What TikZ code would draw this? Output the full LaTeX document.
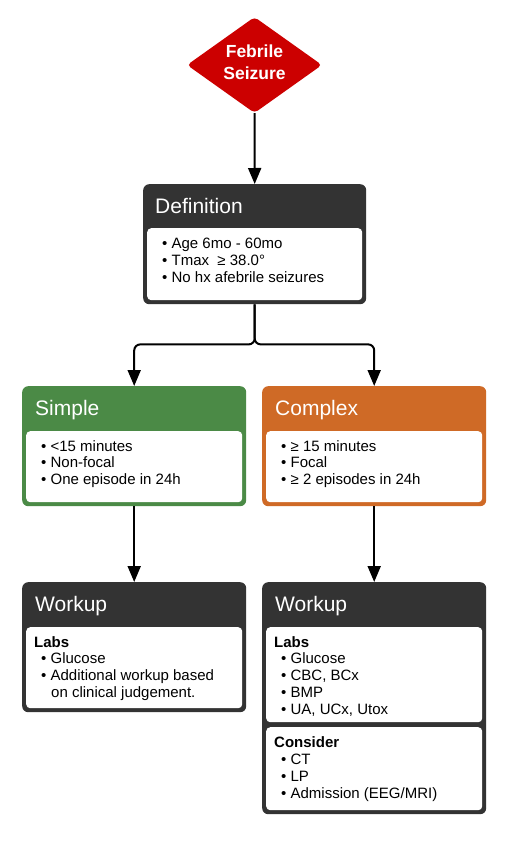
\documentclass[tikz,border=0pt]{standalone}
\usepackage{fontspec}
\setmainfont{Liberation Sans}
\usetikzlibrary{shapes.geometric,arrows.meta}
\definecolor{dark}{HTML}{333333}
\definecolor{fsred}{HTML}{CC0000}
\definecolor{fsgreen}{HTML}{4B8A46}
\definecolor{fsorange}{HTML}{CF6A26}
\begin{document}
\begin{tikzpicture}[x=1pt,y=-1pt,
  panel/.style={anchor=north west, rounded corners=6pt, inner sep=0pt, minimum width=224pt, draw=none},
  whitebox/.style={anchor=north west, rounded corners=4pt, inner sep=0pt, fill=white, minimum width=216pt, draw=none},
  ttl/.style={anchor=base west, inner sep=0pt, text=white, font=\fontsize{21}{24}\selectfont},
  body/.style={anchor=base west, inner sep=0pt, text=black, font=\fontsize{15}{17}\selectfont},
  bodyb/.style={body, font=\fontsize{15}{17}\selectfont\bfseries},
  arr/.style={line width=2pt, -{Triangle[length=16pt,width=13pt]}, black}
]
\useasboundingbox[fill=white] (0,0) rectangle (505,843);

% start diamond
\node[diamond, fill=fsred, aspect=1.41, minimum width=135pt, minimum height=96pt, inner sep=0pt, rounded corners=4pt] (start) at (254.5,65) {};
\node[anchor=base, inner sep=0pt, text=white, font=\fontsize{17.5}{21}\selectfont\bfseries] (startA) at (254.5,58) {Febrile};
\node[anchor=base, inner sep=0pt, text=white, font=\fontsize{17.5}{21}\selectfont\bfseries] (startB) at (254.5,79.5) {Seizure};

% Definition
\node[panel, fill=dark, minimum width=223pt, minimum height=120pt] (def) at (143,184) {};
\node[whitebox, minimum width=215pt, minimum height=72pt] (defw) at (147,228) {};
\node[ttl] (deft) at (155,213) {Definition};
\node[body] (d1) at (162,248.5) {• Age 6mo - 60mo};
\node[body] (d2) at (162,265.5) {• Tmax \ ≥ 38.0°};
\node[body] (d3) at (162,282.5) {• No hx afebrile seizures};

% Simple
\node[panel, fill=fsgreen, minimum height=120pt] (simple) at (22,386) {};
\node[whitebox, minimum height=71pt] (simplew) at (26,431) {};
\node[ttl] (simplet) at (35,415) {Simple};
\node[body] (s1) at (41,451) {• <15 minutes};
\node[body] (s2) at (41,467.5) {• Non-focal};
\node[body] (s3) at (41,484) {• One episode in 24h};

% Complex
\node[panel, fill=fsorange, minimum height=120pt] (complex) at (262,386) {};
\node[whitebox, minimum height=71pt] (complexw) at (266,431) {};
\node[ttl] (complext) at (275,415) {Complex};
\node[body] (c1) at (281,451) {• ≥ 15 minutes};
\node[body] (c2) at (281,467.5) {• Focal};
\node[body] (c3) at (281,484) {• ≥ 2 episodes in 24h};

% Workup left
\node[panel, fill=dark, minimum height=130pt] (wl) at (22,582) {};
\node[whitebox, minimum height=81pt] (wlw) at (26,627) {};
\node[ttl] (wlt) at (35,611) {Workup};
\node[bodyb] (wl0) at (34,647) {Labs};
\node[body] (wl1) at (41,663.5) {• Glucose};
\node[body] (wl2) at (41,680.5) {• Additional workup based};
\node[body] (wl3) at (51,697.5) {on clinical judgement.};

% Workup right
\node[panel, fill=dark, minimum height=232pt] (wr) at (262,582) {};
\node[whitebox, minimum height=95pt] (wrw) at (266,627) {};
\node[whitebox, minimum height=83pt] (wrw2) at (266,727) {};
\node[ttl] (wrt) at (275,611) {Workup};
\node[bodyb] (wr0) at (274,647) {Labs};
\node[body] (wr1) at (281,663.5) {• Glucose};
\node[body] (wr2) at (281,680.5) {• CBC, BCx};
\node[body] (wr3) at (281,697.5) {• BMP};
\node[body] (wr4) at (281,714.5) {• UA, UCx, Utox};
\node[bodyb] (wr5) at (274,747) {Consider};
\node[body] (wr6) at (281,764) {• CT};
\node[body] (wr7) at (281,781) {• LP};
\node[body] (wr8) at (281,798) {• Admission (EEG/MRI)};

% connectors
\draw[arr] (start.south) -- (def.north);
\draw[arr, rounded corners=6pt] (def.south) -- ++(0,40) -| (simple.north);
\draw[arr, rounded corners=6pt] (def.south) -- ++(0,40) -| (complex.north);
\draw[arr] (simple.south) -- (wl.north);
\draw[arr] (complex.south) -- (wr.north);
\end{tikzpicture}
\end{document}
